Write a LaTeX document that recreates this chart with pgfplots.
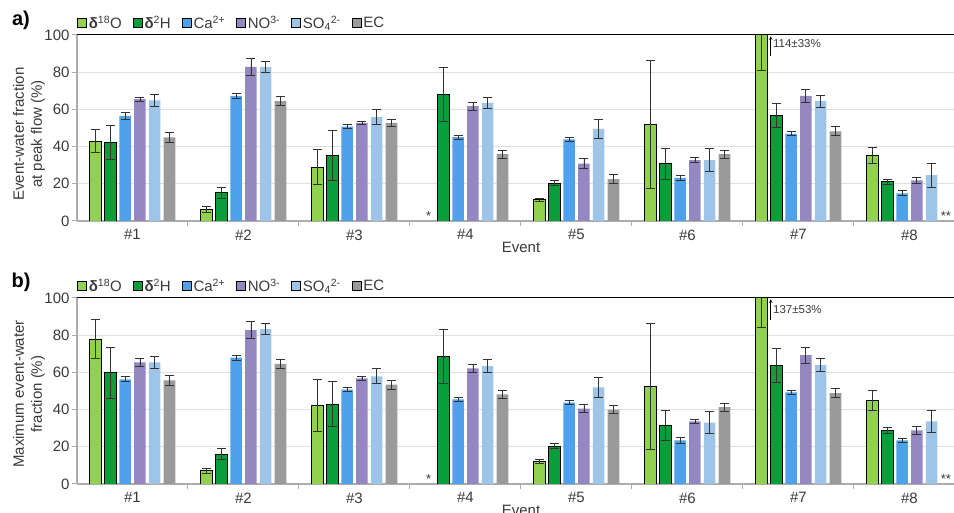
\documentclass[border=0pt]{standalone}
\usepackage{pgfplots}
\pgfplotsset{compat=1.18}
\usepackage{pgfplotstable}
\usepackage{fontspec}
\setmainfont{Liberation Sans}
\definecolor{cO}{HTML}{92D050}
\definecolor{cH}{HTML}{0A9E3B}
\definecolor{cCa}{HTML}{4EA1EA}
\definecolor{cNO}{HTML}{9487C2}
\definecolor{cSO}{HTML}{9EC4E8}
\definecolor{cEC}{HTML}{9A9A9A}
\definecolor{txt}{HTML}{3A3A3A}
\newcommand{\fs}{\fontsize{15}{18}\selectfont}

\pgfplotstableread{
g o oe h he ca cae no noe so soe ec ece
1 43 6 42.3 9.3 56.5 1.8 65.5 1.2 64.9 3.3 45 2.7
2 6.3 1.7 15.3 3 67.3 1.4 82.9 4.5 82.9 3 64.4 2.4
3 29 9.5 35.3 13.3 50.7 1 52.7 0.9 55.9 4 52.7 2
4 nan nan 68 14.5 45.1 1 61.7 2.3 63.5 3.2 36 2.2
5 11.5 0.9 20.3 1.3 43.9 1.1 30.9 2.7 49.5 5.2 22.5 2.3
6 52 34.3 30.8 8.3 23.2 1.5 32.7 1.3 32.7 6.1 36 2.2
7 114 33 56.8 6.5 46.9 1.1 67.3 3.3 64.4 3.3 48.2 2.4
8 35.3 4.2 21.2 1.3 14.9 1.4 21.8 1.6 24.6 6.5 nan nan
}\tA

\pgfplotstableread{
g o oe h he ca cae no noe so soe ec ece
1 78 10.3 59.8 13.7 56.3 1.4 65.4 2 65.4 3.2 55.7 2.6
2 7.1 1.4 16.1 3 68 1.3 82.7 4.6 83.2 2.9 64.6 2.4
3 42.1 14 42.9 12.2 50.7 1 56.8 1.3 57.9 4 53.4 2.3
4 nan nan 68.4 14.5 45.5 1.1 62.1 2 63.4 3.6 48.2 2.2
5 12.1 1 20.4 1.4 43.8 1.1 40.5 2.2 52 5.4 40 2.3
6 52.5 34 31.4 8 23.4 1.7 33.6 1.2 33 6 41.3 2.2
7 137 53 63.8 9.3 49.3 1.1 69.3 4.2 64.1 3.6 48.8 2.4
8 44.8 5.5 28.8 1.8 23.4 1.1 28.8 2.3 33.6 6 nan nan
}\tB

\pgfplotsset{
  myaxis/.style={
    scale only axis, width=888pt, height=186pt,
    xmin=0.5, xmax=8.5, ymin=0, ymax=100,
    clip mode=individual,
    axis lines=left,
    axis line style={-, draw=gray!65, line width=1.3pt},
    ytick={0,20,...,100},
    ymajorgrids, grid style={draw=gray!25, line width=1pt},
    xtick={1,...,8},
    xticklabels={\#1,\#2,\#3,\#4,\#5,\#6,\#7,\#8},
    minor xtick={1.5,2.5,...,7.5},
    major x tick style={draw=none},
    minor x tick style={draw=gray!65, line width=1pt},
    ytick style={draw=gray!65, line width=1pt},
    minor tick length=5pt, major tick length=5pt,
    tick align=outside,
    tick label style={font=\fs, text=txt},
    /pgf/number format/assume math mode=true,
    xticklabel style={yshift=0pt},
    yticklabel style={xshift=1pt},
    legend columns=-1,
    legend style={at={(rel axis cs:0,1)}, anchor=south west, yshift=3pt,
      draw=none, fill=none, font=\fs, text=txt, inner sep=0pt,
      /tikz/every even column/.append style={column sep=9pt}},
    legend image code/.code={\draw[##1,/tikz/.cd,line width=0.7pt] (0pt,-4.5pt) rectangle (9pt,4.5pt);},
    bar width=0.104,
  },
  eb/.style={error bars/y dir=both, error bars/y explicit,
    error bars/error bar style={line width=0.8pt, black!80},
    error bars/error mark options={rotate=90, mark size=4.5pt, line width=0.8pt, black!80}},
  pO/.style={ybar, bar shift=0pt, fill=cO, draw=black, line width=0.8pt, eb},
  pH/.style={ybar, bar shift=0pt, fill=cH, draw=black, line width=0.8pt, eb},
  pCa/.style={ybar, bar shift=0pt, fill=cCa, draw=none, eb},
  pNO/.style={ybar, bar shift=0pt, fill=cNO, draw=none, eb},
  pSO/.style={ybar, bar shift=0pt, fill=cSO, draw=none, eb},
  pEC/.style={ybar, bar shift=0pt, fill=cEC, draw=none, eb},
}

\begin{document}
\begin{tikzpicture}[font=\fs]
% ---------- panel a ----------
\begin{axis}[myaxis, at={(0pt,263pt)}, anchor=origin, name=A]
\addplot[pO] table[x expr=\thisrow{g}-0.3333, y=o, y error=oe] {\tA};
\addplot[pH] table[x expr=\thisrow{g}-0.2, y=h, y error=he] {\tA};
\addplot[pCa] table[x expr=\thisrow{g}-0.0667, y=ca, y error=cae] {\tA};
\addplot[pNO] table[x expr=\thisrow{g}+0.0667, y=no, y error=noe] {\tA};
\addplot[pSO] table[x expr=\thisrow{g}+0.2, y=so, y error=soe] {\tA};
\addplot[pEC] table[x expr=\thisrow{g}+0.3333, y=ec, y error=ece] {\tA};
\legend{\textbf{δ}\textsuperscript{18}O, \textbf{δ}\textsuperscript{2}H, Ca\textsuperscript{2+}, NO\textsuperscript{3-}, SO\textsubscript{4}\textsuperscript{2-}, EC}
\draw[black, line width=1pt] (axis cs:0.5,100) -- (axis cs:8.5,100);
\draw[-stealth, line width=0.6pt, black] (axis cs:6.75,88.5) -- (axis cs:6.75,99.3);
\node[anchor=west, inner sep=0pt, text=txt, font=\fontsize{11.5}{13}\selectfont] at (axis cs:6.77,95.3) {114±33\%};
\node[text=txt, font=\fontsize{13}{15}\selectfont, inner sep=0pt] at (axis cs:3.667,2.8) {*};
\node[text=txt, font=\fontsize{13}{15}\selectfont, inner sep=0pt, anchor=west] at (axis cs:8.28,2.8) {**};
\node[text=txt, font=\fs] at (axis cs:4.5,0) [yshift=-26pt] {Event};
\end{axis}
\node[font=\fontsize{20}{24}\selectfont\bfseries, text=black] at (-56pt,464pt) {a)};
\node[rotate=90, align=center, text=txt, font=\fs] at (-48pt,350pt) {Event-water fraction\\at peak flow (\%)};
% ---------- panel b ----------
\begin{axis}[myaxis, at={(0pt,0pt)}, anchor=origin, name=B]
\addplot[pO] table[x expr=\thisrow{g}-0.3333, y=o, y error=oe] {\tB};
\addplot[pH] table[x expr=\thisrow{g}-0.2, y=h, y error=he] {\tB};
\addplot[pCa] table[x expr=\thisrow{g}-0.0667, y=ca, y error=cae] {\tB};
\addplot[pNO] table[x expr=\thisrow{g}+0.0667, y=no, y error=noe] {\tB};
\addplot[pSO] table[x expr=\thisrow{g}+0.2, y=so, y error=soe] {\tB};
\addplot[pEC] table[x expr=\thisrow{g}+0.3333, y=ec, y error=ece] {\tB};
\legend{\textbf{δ}\textsuperscript{18}O, \textbf{δ}\textsuperscript{2}H, Ca\textsuperscript{2+}, NO\textsuperscript{3-}, SO\textsubscript{4}\textsuperscript{2-}, EC}
\draw[black, line width=1pt] (axis cs:0.5,100) -- (axis cs:8.5,100);
\draw[-stealth, line width=0.6pt, black] (axis cs:6.75,88) -- (axis cs:6.75,99.3);
\node[anchor=west, inner sep=0pt, text=txt, font=\fontsize{11.5}{13}\selectfont] at (axis cs:6.77,94) {137±53\%};
\node[text=txt, font=\fontsize{13}{15}\selectfont, inner sep=0pt] at (axis cs:3.667,2.8) {*};
\node[text=txt, font=\fontsize{13}{15}\selectfont, inner sep=0pt, anchor=west] at (axis cs:8.28,2.8) {**};
\node[text=txt, font=\fs] at (axis cs:4.5,0) [yshift=-26pt] {Event};
\end{axis}
\node[font=\fontsize{20}{24}\selectfont\bfseries, text=black] at (-56pt,202pt) {b)};
\node[rotate=90, align=center, text=txt, font=\fs] at (-48pt,90pt) {Maximum event-water\\fraction (\%)};
\pgfresetboundingbox
\useasboundingbox (-77pt,-29pt) rectangle (877pt,484pt);
\end{tikzpicture}
\end{document}
